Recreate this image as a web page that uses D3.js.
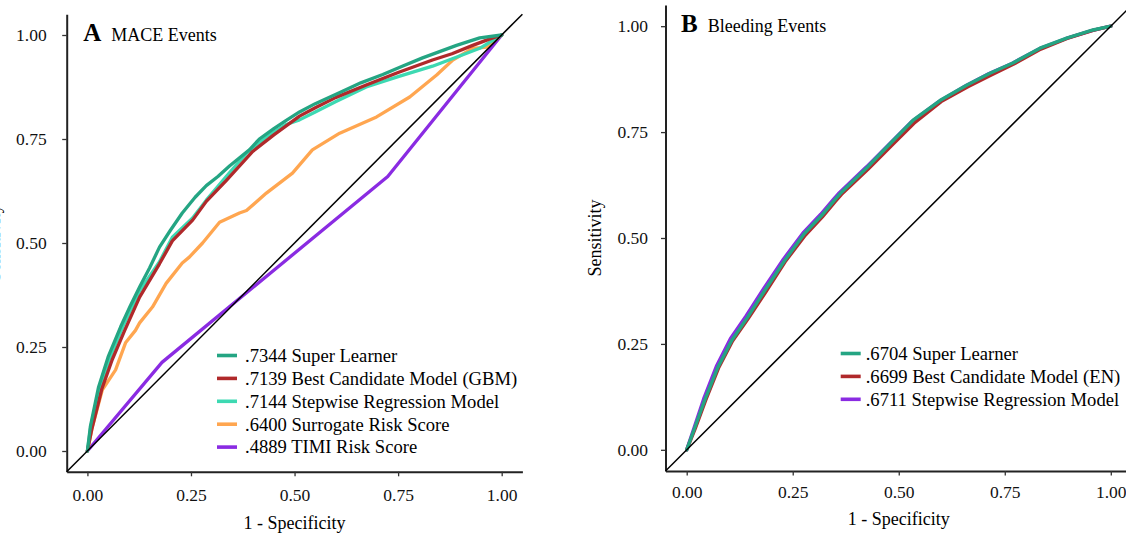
<!DOCTYPE html>
<html><head><meta charset="utf-8">
<script src="https://cdn.jsdelivr.net/npm/d3@7"></script>
<style>
body{margin:0;background:#fff}
svg{display:block;font-family:"Liberation Serif","Times New Roman",serif}
</style>
</head><body>
<svg id="chart" width="1126" height="536"></svg>
<script>
// ---------- DATA ----------
const tickValues = [0, 0.25, 0.5, 0.75, 1];
const tickLabels = ["0.00", "0.25", "0.50", "0.75", "1.00"];

// Panel A: MACE events  ([1 - specificity, sensitivity])
const maceSuperLearner = [[0,0],[0.007,0.058],[0.027,0.154],[0.05,0.226],[0.08,0.298],[0.104,0.35],[0.126,0.394],[0.15,0.44],[0.174,0.49],[0.2,0.53],[0.229,0.572],[0.26,0.61],[0.287,0.638],[0.315,0.66],[0.343,0.685],[0.391,0.724],[0.415,0.75],[0.45,0.775],[0.48,0.795],[0.512,0.815],[0.55,0.835],[0.616,0.865],[0.66,0.885],[0.713,0.905],[0.76,0.925],[0.809,0.945],[0.85,0.96],[0.891,0.975],[0.947,0.993],[1,1]];
const maceGBM = [[0,0],[0.01,0.05],[0.035,0.15],[0.06,0.22],[0.09,0.29],[0.126,0.37],[0.174,0.45],[0.205,0.505],[0.254,0.555],[0.287,0.6],[0.335,0.65],[0.399,0.72],[0.45,0.76],[0.512,0.805],[0.55,0.825],[0.6,0.85],[0.673,0.88],[0.75,0.91],[0.833,0.94],[0.88,0.955],[0.93,0.975],[0.97,0.99],[1,1]];
const maceStepwise = [[0,0],[0.008,0.058],[0.03,0.155],[0.055,0.226],[0.085,0.298],[0.126,0.385],[0.174,0.455],[0.205,0.514],[0.254,0.56],[0.287,0.603],[0.335,0.66],[0.384,0.716],[0.432,0.755],[0.48,0.785],[0.512,0.796],[0.55,0.815],[0.6,0.84],[0.673,0.875],[0.75,0.9],[0.833,0.925],[0.9,0.95],[0.947,0.968],[1,1]];
const maceSurrogate = [[0,0],[0.012,0.058],[0.036,0.147],[0.068,0.195],[0.092,0.26],[0.116,0.29],[0.126,0.308],[0.157,0.346],[0.19,0.403],[0.229,0.452],[0.246,0.466],[0.278,0.5],[0.319,0.55],[0.367,0.572],[0.384,0.578],[0.432,0.62],[0.495,0.668],[0.543,0.724],[0.609,0.764],[0.698,0.803],[0.778,0.851],[0.843,0.904],[0.882,0.94],[0.93,0.968],[0.964,0.971],[1,1]];
const maceTIMI = [[0,0],[0.18,0.213],[0.725,0.66],[1,1]];
const maceLabels = [".7344 Super Learner", ".7139 Best Candidate Model (GBM)", ".7144 Stepwise Regression Model", ".6400 Surrogate Risk Score", ".4889 TIMI Risk Score"];

// Panel B: Bleeding events
const bleedSuperLearner = [[0,0],[0.019,0.052],[0.042,0.116],[0.073,0.194],[0.106,0.258],[0.143,0.312],[0.184,0.376],[0.231,0.447],[0.278,0.511],[0.318,0.553],[0.348,0.589],[0.362,0.605],[0.426,0.667],[0.48,0.723],[0.534,0.778],[0.598,0.825],[0.661,0.861],[0.715,0.889],[0.769,0.913],[0.833,0.948],[0.896,0.972],[0.958,0.991],[1,1]];
const bleedEN = [[0,0],[0.02,0.05],[0.045,0.118],[0.075,0.193],[0.108,0.257],[0.145,0.31],[0.186,0.372],[0.232,0.444],[0.28,0.507],[0.32,0.55],[0.35,0.586],[0.365,0.603],[0.428,0.663],[0.482,0.717],[0.536,0.771],[0.6,0.822],[0.663,0.857],[0.717,0.884],[0.77,0.91],[0.835,0.946],[0.897,0.971],[0.958,0.99],[1,1]];
const bleedStepwise = [[0,0],[0.018,0.054],[0.04,0.12],[0.07,0.197],[0.103,0.262],[0.14,0.316],[0.181,0.38],[0.228,0.45],[0.276,0.514],[0.316,0.556],[0.346,0.591],[0.36,0.607],[0.424,0.668],[0.478,0.722],[0.532,0.776],[0.596,0.823],[0.659,0.86],[0.713,0.888],[0.767,0.912],[0.832,0.947],[0.895,0.971],[0.957,0.99],[1,1]];
const bleedLabels = [".6704 Super Learner", ".6699 Best Candidate Model (EN)", ".6711 Stepwise Regression Model"];

// ---------- STYLE ----------
const cTeal = "#24a583", cRed = "#b0292b", cTurq = "#3dd9b2", cOrange = "#ffa650", cPurple = "#8a2be2";
const FONT = '"Liberation Serif","Times New Roman",serif';

const svg = d3.select("#chart");

function panel(cfg) {
  const x = d3.scaleLinear().domain([-0.05, 1.05]).range(cfg.xr);
  const y = d3.scaleLinear().domain([-0.05, 1.05]).range(cfg.yr);
  const g = svg.append("g");

  // axes
  const xa = d3.axisBottom(x).tickValues(tickValues).tickFormat((d, i) => tickLabels[i])
    .tickSizeInner(4.5).tickSizeOuter(0).tickPadding(cfg.xpad);
  const ya = d3.axisLeft(y).tickValues(tickValues).tickFormat((d, i) => tickLabels[i])
    .tickSizeInner(4.5).tickSizeOuter(0).tickPadding(cfg.ypad);
  const gx = g.append("g").attr("transform", `translate(0,${cfg.yr[0]})`).call(xa);
  const gy = g.append("g").attr("transform", `translate(${cfg.xr[0]},0)`).call(ya);
  [gx, gy].forEach(a => {
    a.selectAll("path.domain").attr("stroke", "#222").attr("stroke-width", 2);
    a.selectAll(".tick line").attr("stroke", "#333").attr("stroke-width", 1.3);
    a.selectAll(".tick text").attr("fill", "#111").style("font-size", "17.5px").style("font-family", FONT);
  });

  // curves
  const line = d3.line().x(d => x(d[0])).y(d => y(d[1]));
  cfg.series.slice().reverse().forEach(s => {
    g.append("path").datum(s.data).attr("d", line)
      .attr("fill", "none").attr("stroke", s.color).attr("stroke-width", cfg.lw)
      .attr("stroke-linejoin", "round").attr("stroke-linecap", "round");
  });

  // reference diagonal
  g.append("path").datum([[-0.05, -0.05], [1.05, 1.05]]).attr("d", line)
    .attr("stroke", "#000").attr("stroke-width", 1.5).attr("fill", "none");

  // titles
  const tl = g.append("text").attr("x", cfg.xr[0] + cfg.tdx).attr("y", cfg.yr[1] + 26.5)
    .style("font-family", FONT).attr("fill", "#000");
  tl.append("tspan").text(cfg.letter).style("font-weight", "bold").style("font-size", "25px");
  tl.append("tspan").text(cfg.title).attr("dx", 10).style("font-size", "18px");

  // axis titles
  g.append("text").attr("x", x(0.5)).attr("y", cfg.xtY).attr("text-anchor", "middle")
    .style("font-size", "18px").style("font-family", FONT).attr("fill", "#000").text("1 - Specificity");
  g.append("text").attr("transform", `translate(${cfg.ylabX},${y(0.5)}) rotate(-90)`)
    .attr("text-anchor", "middle").style("font-size", "18px").style("font-family", FONT)
    .attr("fill", "#000").text("Sensitivity");

  // legend
  cfg.series.forEach((s, i) => {
    const cy = cfg.legY + i * 22.9;
    g.append("line").attr("x1", cfg.legX).attr("x2", cfg.legX + 20).attr("y1", cy).attr("y2", cy)
      .attr("stroke", s.color).attr("stroke-width", 3.6);
    g.append("text").attr("x", cfg.legX + cfg.legGap).attr("y", cy).attr("dy", "0.34em")
      .style("font-size", "18.6px").style("font-family", FONT).attr("fill", "#000").text(s.label);
  });
}

panel({
  xr: [66.7, 522.4], yr: [471.8, 14.2], xpad: 12.5, ypad: 15.5, lw: 3.3,
  letter: "A", title: "MACE Events", tdx: 16.5, xtY: 529, ylabX: 0,
  legX: 217, legY: 355.5, legGap: 28,
  series: [
    {data: maceSuperLearner, color: cTeal, label: maceLabels[0]},
    {data: maceGBM, color: cRed, label: maceLabels[1]},
    {data: maceStepwise, color: cTurq, label: maceLabels[2]},
    {data: maceSurrogate, color: cOrange, label: maceLabels[3]},
    {data: maceTIMI, color: cPurple, label: maceLabels[4]}
  ]
});

panel({
  xr: [665.5, 1132], yr: [471, 5], xpad: 10, ypad: 13, lw: 3.4,
  letter: "B", title: "Bleeding Events", tdx: 15.5, xtY: 525, ylabX: 601,
  legX: 840.7, legY: 353.5, legGap: 25,
  series: [
    {data: bleedSuperLearner, color: cTeal, label: bleedLabels[0]},
    {data: bleedEN, color: cRed, label: bleedLabels[1]},
    {data: bleedStepwise, color: cPurple, label: bleedLabels[2]}
  ]
});
</script>
</body></html>
